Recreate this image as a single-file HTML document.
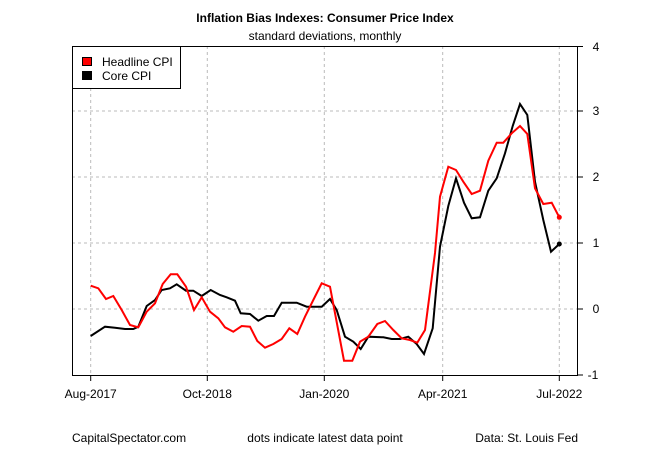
<!DOCTYPE html>
<html><head><meta charset="utf-8"><style>html,body{margin:0;padding:0;background:#fff}svg{display:block}text{font-family:"Liberation Sans",Arial,sans-serif}</style></head><body>
<svg width="650" height="450" viewBox="0 0 650 450" xmlns="http://www.w3.org/2000/svg">
<rect width="650" height="450" fill="#fff"/>
<text x="325" y="22" text-anchor="middle" font-size="12" font-weight="bold">Inflation Bias Indexes: Consumer Price Index</text>
<text x="325" y="40" text-anchor="middle" font-size="12">standard deviations, monthly</text>
<g stroke="#bbb" stroke-width="1" stroke-dasharray="3,3" fill="none">
<line x1="72" y1="111" x2="577" y2="111"/><line x1="72" y1="177" x2="577" y2="177"/><line x1="72" y1="243" x2="577" y2="243"/><line x1="72" y1="309" x2="577" y2="309"/>
<line x1="90.7" y1="46" x2="90.7" y2="375"/><line x1="207.3" y1="46" x2="207.3" y2="375"/><line x1="324.3" y1="46" x2="324.3" y2="375"/><line x1="442.7" y1="46" x2="442.7" y2="375"/><line x1="559.3" y1="46" x2="559.3" y2="375"/>
</g>
<polyline fill="none" stroke="#000" stroke-width="2" points="90.7,336 105,326.7 115,327.7 125,329 133.3,329 138.3,326.7 146.7,306 155,300 161.7,290 170,288.3 176.7,284.3 186,290.7 193.3,290.7 201.7,296 210.7,290 220,295 226.7,297.3 235,300.7 240.7,313.3 250,314 258.3,320.7 266.7,316 274,316 281.7,302.7 296.7,302.7 306.7,306.7 321.7,306.7 330,299 336.7,310 345,336.7 353.3,341.7 360.7,349 368.3,336.7 383.3,337.3 391.7,339 400,339 408.3,336.7 416.7,344 424,354 432.7,328.3 440,246.7 448.3,206 456,178.3 464,202.7 471.7,218.3 480,217.3 488.3,190.7 496.7,178.3 505,153.3 512.7,126 520,104 527.3,115 535,181.7 543.3,220 551,251.7 559.3,244"/>
<polyline fill="none" stroke="#f00" stroke-width="2" points="90.7,285.7 98.3,288.3 106,299 113.3,296 121.7,310 130,325 138.3,327.3 146.7,311.7 155,303.3 162.7,284 170.7,274.3 177.3,274.3 186,286.7 194,310 201.7,297.3 210,311.7 218.3,318.3 225,327.3 233.3,331.7 241.7,326 250,326.7 257.3,341 265,347.7 273.3,344 281.7,339 289.3,328.3 297.3,334 305,316.7 313.3,300 321.7,283.3 330,286.7 344,360.7 352.3,360.7 360,341.7 368.3,336.7 377.3,324 385,321 393.3,330 401.7,338.3 410,340 417.3,342.7 425,330 435,253 440,196.7 448.3,166.7 456,170 463.3,181.7 471.7,194 480,190.7 488.3,160.7 496.7,142.7 503.3,142.7 511.7,133.3 520,126 527.3,134 535,188.3 543.3,204 551.7,202.7 559.3,217.3"/>
<circle cx="559.3" cy="217.3" r="2.5" fill="#f00"/><circle cx="559.3" cy="244" r="2.5" fill="#000"/>
<rect x="72.5" y="46.5" width="505" height="329" fill="none" stroke="#000" stroke-width="1"/>
<g stroke="#000" stroke-width="1">
<line x1="90.7" y1="375" x2="90.7" y2="381"/><line x1="207.3" y1="375" x2="207.3" y2="381"/><line x1="324.3" y1="375" x2="324.3" y2="381"/><line x1="442.7" y1="375" x2="442.7" y2="381"/><line x1="559.3" y1="375" x2="559.3" y2="381"/>
<line x1="577" y1="46.5" x2="583" y2="46.5"/><line x1="577" y1="111" x2="583" y2="111"/><line x1="577" y1="177" x2="583" y2="177"/><line x1="577" y1="243" x2="583" y2="243"/><line x1="577" y1="309" x2="583" y2="309"/><line x1="577" y1="375" x2="583" y2="375"/>
</g>
<g font-size="12" text-anchor="middle">
<text x="90.7" y="398">Aug-2017</text><text x="207.3" y="398">Oct-2018</text><text x="324.3" y="398">Jan-2020</text><text x="442.7" y="398">Apr-2021</text><text x="559.3" y="398">Jul-2022</text>
</g>
<g font-size="12" text-anchor="middle">
<text x="596" y="51">4</text><text x="596" y="115">3</text><text x="596" y="181">2</text><text x="596" y="247">1</text><text x="596" y="313">0</text><text x="593" y="379">-1</text>
</g>
<rect x="72.5" y="46.5" width="108" height="42" fill="#fff" stroke="#000"/>
<rect x="82.5" y="57.5" width="9" height="8" fill="#f00" stroke="#000"/>
<rect x="82.5" y="71.5" width="9" height="8" fill="#000" stroke="#000"/>
<text x="102" y="66" font-size="12">Headline CPI</text>
<text x="102" y="80" font-size="12">Core CPI</text>
<text x="72" y="442" font-size="12">CapitalSpectator.com</text>
<text x="325" y="442" font-size="12" text-anchor="middle">dots indicate latest data point</text>
<text x="578" y="442" font-size="12" text-anchor="end">Data: St. Louis Fed</text>
</svg>
</body></html>
